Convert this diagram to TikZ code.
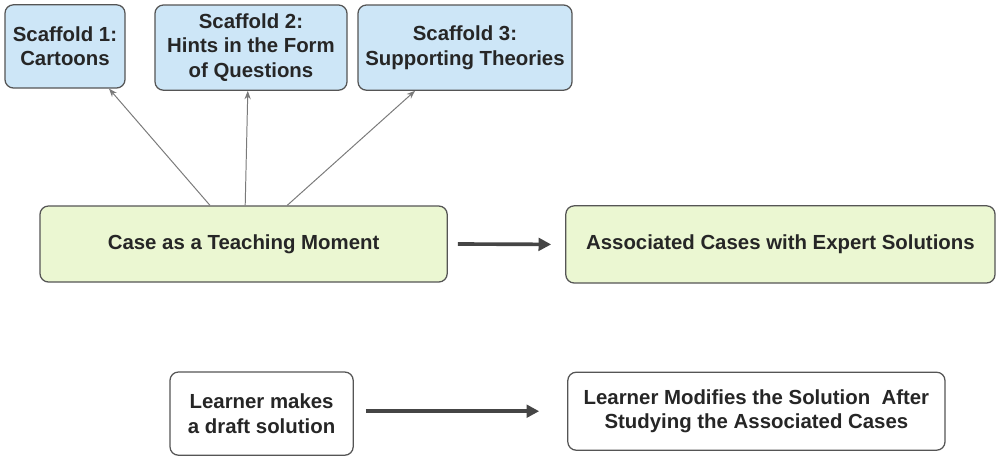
\documentclass[tikz,border=0pt]{standalone}
\usepackage{fontspec}
\setmainfont{Liberation Sans}
\usetikzlibrary{positioning,arrows.meta}
\definecolor{scafblue}{HTML}{CDE6F7}
\definecolor{casegreen}{HTML}{EBF7D2}
\definecolor{edgegray}{HTML}{555555}
\definecolor{arrgray}{HTML}{7A7A7A}
\definecolor{thickgray}{HTML}{454545}

\begin{document}
\begin{tikzpicture}[
      font=\fontsize{14.5}{17.5}\selectfont\bfseries,
      box/.style={draw=edgegray, line width=0.9pt, rounded corners=6pt, align=center, text=black!85, inner sep=1pt},
      scaffold/.style={box, fill=scafblue},
      casebox/.style={box, fill=casegreen},
      learnbox/.style={box, fill=white},
      thin/.style={-{Stealth[length=6pt,width=4.5pt]}, draw=arrgray, line width=0.7pt},
      thickarr/.style={-{Triangle[length=9pt,width=9pt]}, draw=thickgray, line width=2.6pt},
    ]
      \useasboundingbox (0,0) rectangle (24.9,-11.475);
      \node[scaffold, minimum width=3.0cm, minimum height=2.08cm] (s1) at (1.625,-1.16) {Scaffold 1:\\Cartoons};
      \node[scaffold, minimum width=4.8cm, minimum height=2.13cm] (s2) at (6.275,-1.19) {Scaffold 2:\\Hints in the Form\\of Questions};
      \node[scaffold, minimum width=5.35cm, minimum height=2.13cm] (s3) at (11.625,-1.19) {Scaffold 3:\\Supporting Theories};
      \node[casebox, minimum width=10.18cm, minimum height=1.9cm] (case) at (6.09,-6.1) {Case as a Teaching Moment};
      \node[casebox, minimum width=10.73cm, minimum height=1.93cm] (assoc) at (19.51,-6.11) {Associated Cases with Expert Solutions};
      \node[learnbox, minimum width=4.58cm, minimum height=2.08cm] (draft) at (6.54,-10.34) {Learner makes\\a draft solution};
      \node[learnbox, minimum width=9.43cm, minimum height=1.95cm] (modify) at (18.91,-10.28) {Learner Modifies the Solution\ \ After\\Studying the Associated Cases};

    % scaffolds hang off the case
    \draw[thin] ([xshift=-0.84cm]case.north) -- ([xshift=1.1cm]s1.south);
    \draw[thin] ([xshift=0.04cm]case.north) -- ([xshift=-0.08cm]s2.south);
    \draw[thin] ([xshift=1.09cm]case.north) -- ([xshift=-1.25cm]s3.south);
    % main flow
    \draw[thickarr] ([xshift=0.25cm]case.east) -- ([xshift=-0.35cm]assoc.west);
    \draw[thickarr] ([xshift=0.3cm]draft.east |- modify.west) -- ([xshift=-0.7cm]modify.west);
\end{tikzpicture}
\end{document}
